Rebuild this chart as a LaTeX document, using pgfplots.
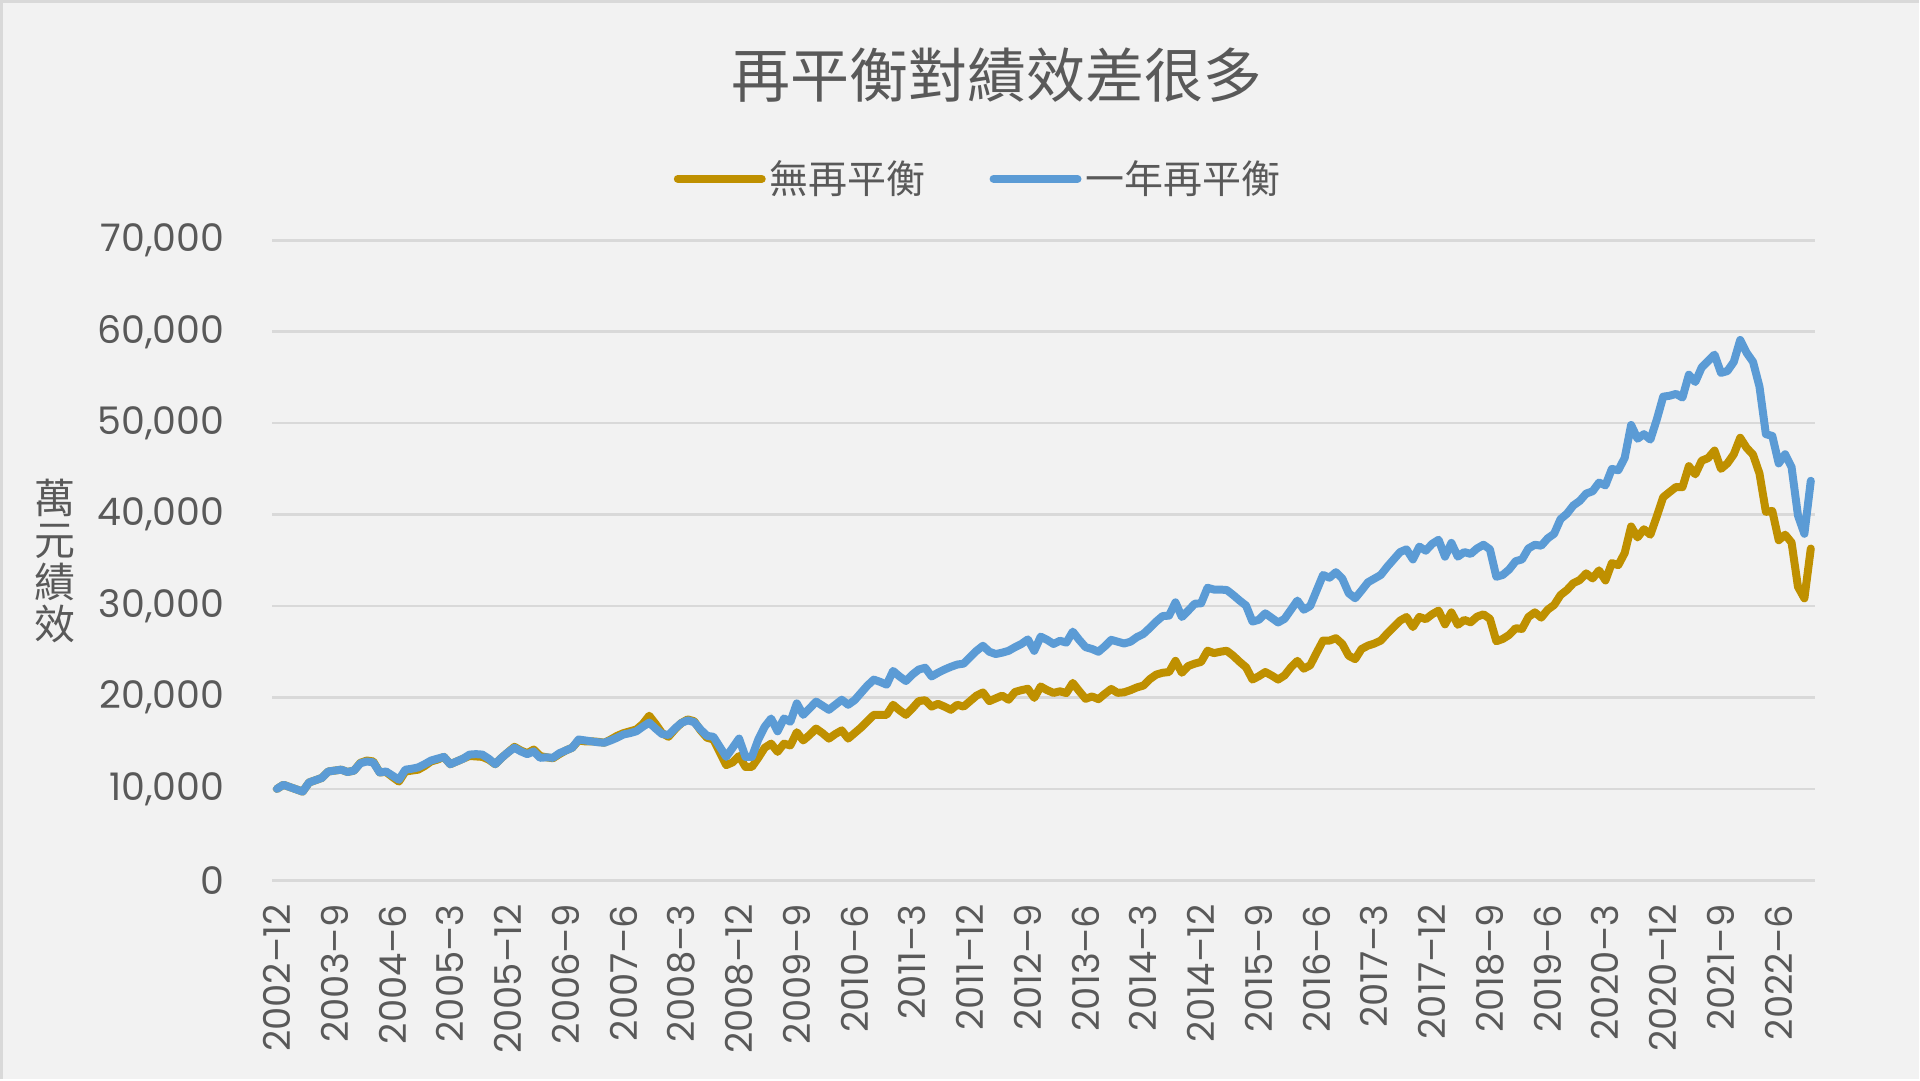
\documentclass[border=0pt]{standalone}
\usepackage{fontspec}
\usepackage{pgfplots}
\pgfplotsset{compat=1.18}
\usepackage{pgfplotstable}
\setmainfont{Poppins}
\newfontfamily\cjk{Noto Sans CJK TC}
\definecolor{bg}{HTML}{F2F2F2}
\definecolor{bord}{HTML}{D9D9D9}
\definecolor{gridc}{HTML}{D9D9D9}
\definecolor{txt}{HTML}{595959}
\definecolor{goldc}{HTML}{BF9000}
\definecolor{bluec}{HTML}{5B9BD5}

\pgfplotstableread{
i g b
0 10000 10000
1 10450 10450
2 10200 10200
3 9950 9950
4 9700 9700
5 10700 10700
6 10950 10950
7 11200 11200
8 11900 11900
9 12000 12000
10 12100 12100
11 11850 11850
12 12000 12000
13 12850 12800
14 13100 13000
15 13000 12900
16 11800 11800
17 11850 11900
18 11300 11450
19 10800 11000
20 11900 12100
21 12000 12200
22 12100 12350
23 12500 12700
24 13000 13100
25 13200 13300
26 13500 13500
27 12700 12700
28 13000 13000
29 13300 13300
30 13600 13750
31 13550 13800
32 13500 13750
33 13200 13300
34 12700 12700
35 13400 13400
36 14000 14000
37 14600 14500
38 14200 14100
39 13900 13800
40 14300 14100
41 13600 13400
42 13450 13450
43 13350 13400
44 13800 13900
45 14200 14200
46 14500 14500
47 15300 15400
48 15200 15300
49 15200 15200
50 15150 15100
51 15050 15050
52 15400 15300
53 15800 15600
54 16100 15950
55 16300 16100
56 16500 16300
57 17100 16800
58 18000 17250
59 17100 16600
60 16100 16000
61 15700 15900
62 16500 16600
63 17200 17200
64 17600 17500
65 17400 17300
66 16400 16500
67 15600 15800
68 15400 15700
69 14000 14600
70 12600 13500
71 12900 14500
72 13600 15500
73 12400 13500
74 12400 13500
75 13400 15400
76 14500 16800
77 14950 17700
78 14050 16300
79 14950 17700
80 14750 17350
81 16200 19350
82 15300 18100
83 15900 18800
84 16600 19550
85 16100 19100
86 15500 18650
87 16000 19200
88 16400 19750
89 15500 19200
90 16100 19700
91 16700 20500
92 17400 21300
93 18100 21950
94 18100 21700
95 18100 21400
96 19200 22900
97 18600 22300
98 18100 21800
99 18800 22500
100 19600 23050
101 19700 23250
102 19000 22300
103 19300 22700
104 19000 23050
105 18650 23350
106 19200 23600
107 19000 23700
108 19600 24400
109 20200 25100
110 20550 25650
111 19600 25000
112 19900 24750
113 20200 24900
114 19750 25100
115 20600 25500
116 20800 25850
117 20950 26350
118 19950 25100
119 21200 26650
120 20800 26300
121 20500 25850
122 20670 26200
123 20480 26000
124 21590 27200
125 20700 26300
126 19850 25500
127 20110 25300
128 19810 25000
129 20400 25600
130 20930 26300
131 20500 26100
132 20560 25900
133 20800 26100
134 21100 26600
135 21300 26950
136 22000 27600
137 22500 28300
138 22700 28900
139 22780 28950
140 24000 30400
141 22700 28800
142 23440 29500
143 23700 30250
144 23890 30300
145 25110 32000
146 24850 31800
147 25000 31800
148 25110 31750
149 24560 31200
150 23900 30600
151 23300 30050
152 21960 28300
153 22330 28500
154 22780 29200
155 22400 28700
156 21960 28200
157 22410 28600
158 23300 29600
159 24000 30600
160 23150 29600
161 23520 30000
162 24900 31700
163 26220 33400
164 26220 33100
165 26480 33700
166 25850 33000
167 24560 31400
168 24190 30850
169 25300 31700
170 25670 32600
171 25900 33000
172 26220 33400
173 27000 34300
174 27700 35100
175 28400 35900
176 28800 36200
177 27700 35100
178 28810 36500
179 28560 36050
180 29100 36800
181 29500 37250
182 28000 35400
183 29300 36900
184 27950 35400
185 28480 35900
186 28220 35700
187 28840 36300
188 29090 36700
189 28600 36200
190 26150 33200
191 26400 33400
192 26840 34000
193 27570 34900
194 27500 35100
195 28800 36300
196 29310 36700
197 28730 36600
198 29600 37400
199 30110 37900
200 31200 39500
201 31750 40100
202 32500 41000
203 32840 41500
204 33570 42300
205 33020 42550
206 33900 43500
207 32800 43200
208 34700 45000
209 34470 44850
210 35800 46200
211 38700 49800
212 37500 48300
213 38400 48800
214 37800 48200
215 39800 50400
216 41900 52900
217 42470 53000
218 43020 53200
219 43000 52800
220 45300 55300
221 44400 54500
222 45900 56100
223 46180 56800
224 47000 57500
225 45000 55500
226 45600 55700
227 46600 56700
228 48400 59100
229 47300 57700
230 46550 56700
231 44500 54000
232 40300 48800
233 40400 48600
234 37200 45600
235 37800 46600
236 36950 45200
237 32100 39900
238 30840 37900
239 36290 43700
}\data

\begin{document}
\begin{tikzpicture}
\fill[bg] (0,0) rectangle (960pt,540pt);
\draw[bord, line width=1.5pt] (0.75pt,0pt) -- (0.75pt,539.25pt) -- (960pt,539.25pt);
\begin{axis}[
  at={(136.35pt,99.5pt)}, anchor=south west,
  scale only axis, width=772pt, height=320.25pt,
  xmin=-0.7, xmax=239.7, ymin=0, ymax=70000,
  axis line style={draw=none},
  ymajorgrids, grid style={draw=gridc, line width=1.3pt},
  major tick length=0pt,
  scaled y ticks=false,
  ytick={0,10000,20000,30000,40000,50000,60000,70000},
  yticklabels={0,{10,000},{20,000},{30,000},{40,000},{50,000},{60,000},{70,000}},
  xtick={0,9,...,234},
  xticklabels={2002--12,2003--9,2004--6,2005--3,2005--12,2006--9,2007--6,2008--3,2008--12,2009--9,2010--6,2011--3,2011--12,2012--9,2013--6,2014--3,2014--12,2015--9,2016--6,2017--3,2017--12,2018--9,2019--6,2020--3,2020--12,2021--9,2022--6},
  /pgf/number format/assume math mode=true,
  tick label style={font=\fontsize{19}{22}\selectfont, text=txt, inner sep=0pt},
  xticklabel style={rotate=90, anchor=east, font=\fontsize{18.5}{22}\selectfont},
  yticklabel style={anchor=east},
  xticklabel shift=12pt,
  yticklabel shift=24pt,
  legend style={at={(0.458,1.096)}, anchor=center, draw=none, fill=none,
    font=\cjk\fontsize{19.5}{22}\selectfont, text=txt,
    /tikz/every even column/.append style={column sep=30pt}},
  legend columns=2,
  legend image code/.code={\draw[#1] (0pt,0pt) -- (42pt,0pt);},
]
\addplot[goldc, line width=4pt, line join=round, line cap=round] table[x=i,y=g] {\data};
\addlegendentry{無再平衡}
\addplot[bluec, line width=4pt, line join=round, line cap=round] table[x=i,y=b] {\data};
\addlegendentry{一年再平衡}
\end{axis}
\node[font=\cjk\fontsize{29.5}{32}\selectfont, text=txt] at (499pt,502.25pt) {再平衡對績效差很多};
\node[font=\cjk\fontsize{20.5}{21}\selectfont, text=txt, align=center] at (27.75pt,259.5pt) {萬\\元\\績\\效};
\end{tikzpicture}
\end{document}
